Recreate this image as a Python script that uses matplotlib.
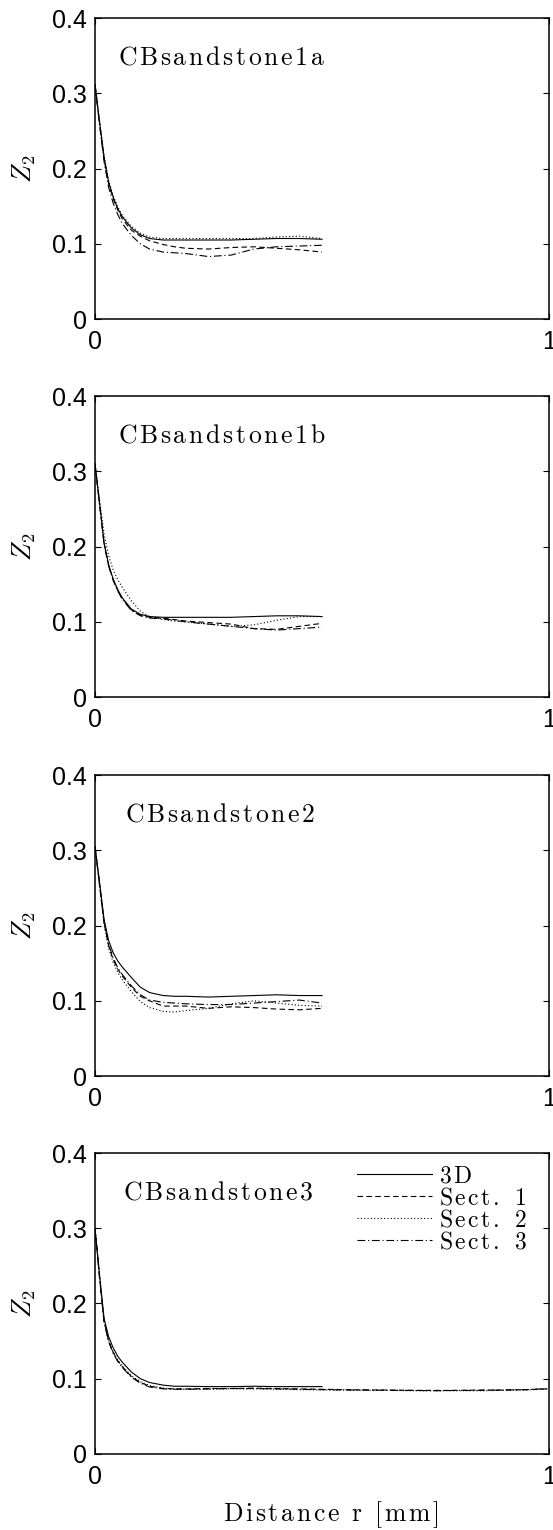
# two-point correlation Z2 for the four sandstone samples, 3D vs 2D sections
import matplotlib
matplotlib.use('Agg')
import matplotlib.pyplot as plt

# data
r = [0, .01, .02, .03, .04, .05, .06, .08, .10, .12, .15, .175, .20, .25, .30, .35, .40, .45, .50]
r_long = r + [.55, .60, .65, .70, .75, .80, .85, .90, .95, 1.0]

samples = ['CBsandstone1a', 'CBsandstone1b', 'CBsandstone2', 'CBsandstone3']
series_names = ['3D', 'Sect. 1', 'Sect. 2', 'Sect. 3']

z_1a_3d = [.312, .262, .215, .182, .162, .147, .136, .121, .112, .107, .105, .105, .105, .105, .105, .106, .107, .107, .106]
z_1a_s1 = [.312, .260, .212, .180, .160, .145, .133, .118, .110, .104, .099, .096, .094, .093, .095, .096, .094, .092, .089]
z_1a_s2 = [.312, .263, .217, .184, .164, .149, .138, .123, .114, .109, .107, .107, .107, .107, .107, .107, .109, .110, .107]
z_1a_s3 = [.312, .258, .209, .175, .154, .139, .127, .111, .100, .093, .089, .088, .087, .083, .085, .093, .096, .097, .098]

z_1b_3d = [.310, .258, .205, .176, .157, .143, .132, .117, .110, .107, .106, .106, .106, .106, .106, .107, .108, .108, .107]
z_1b_s1 = [.310, .257, .204, .175, .156, .142, .131, .116, .109, .106, .105, .103, .101, .099, .097, .091, .090, .094, .098]
z_1b_s2 = [.310, .262, .217, .188, .169, .156, .146, .128, .114, .107, .103, .101, .100, .097, .094, .096, .102, .107, .107]
z_1b_s3 = [.310, .256, .203, .174, .155, .141, .130, .115, .108, .105, .104, .102, .100, .097, .094, .091, .089, .091, .093]

z_2_3d = [.305, .258, .208, .180, .164, .153, .145, .131, .118, .111, .107, .106, .106, .105, .106, .107, .108, .107, .107]
z_2_s1 = [.305, .254, .203, .173, .155, .142, .133, .118, .106, .100, .093, .093, .093, .090, .092, .091, .089, .088, .090]
z_2_s2 = [.305, .253, .201, .170, .151, .138, .128, .112, .099, .091, .086, .085, .087, .090, .096, .100, .097, .094, .093]
z_2_s3 = [.305, .255, .205, .175, .157, .144, .135, .120, .108, .101, .098, .097, .096, .095, .095, .097, .099, .101, .097]

z_3_3d = [.300, .238, .180, .156, .141, .130, .122, .109, .100, .095, .0915, .090, .090, .0895, .0895, .090, .0895, .0895, .0895]
z_3_s1 = [.300, .235, .176, .150, .135, .124, .116, .103, .095, .090, .087, .0865, .0865, .087, .087, .0875, .087, .0865, .086,
          .0855, .085, .085, .0845, .0845, .0845, .085, .085, .0855, .0865]
z_3_s2 = [.300, .236, .177, .151, .136, .125, .117, .104, .096, .091, .0875, .0865, .086, .086, .0865, .0865, .086, .0855, .085,
          .085, .0845, .0845, .084, .084, .084, .084, .0845, .085, .0865]
z_3_s3 = [.300, .234, .175, .149, .134, .123, .115, .102, .094, .089, .0865, .086, .086, .0865, .087, .087, .0865, .086, .0855,
          .085, .085, .0845, .0845, .084, .0845, .0845, .085, .0855, .087]

panels = [
    ([r, r, r, r], [z_1a_3d, z_1a_s1, z_1a_s2, z_1a_s3]),
    ([r, r, r, r], [z_1b_3d, z_1b_s1, z_1b_s2, z_1b_s3]),
    ([r, r, r, r], [z_2_3d, z_2_s1, z_2_s2, z_2_s3]),
    ([r, r_long, r_long, r_long], [z_3_3d, z_3_s1, z_3_s2, z_3_s3]),
]

ytick_vals = [0, 0.1, 0.2, 0.3, 0.4]
ytick_labels = ['0', '0.1', '0.2', '0.3', '0.4']
xtick_vals = [0, 1]
xtick_labels = ['0', '1']

# styles
plt.rcParams['font.family'] = ['Liberation Sans', 'DejaVu Sans']
plt.rcParams['mathtext.fontset'] = 'cm'
styles = ['-', (0, (5, 3)), (0, (1, 2)), (0, (7, 2.5, 1, 2.5))]
label_x = [0.05, 0.05, 0.066, 0.062]
txt_size = 18.5


def spaced(s, gap=0.12):
    # latex-ish roman text with a little letter spacing, like the original
    parts = [r'\ ' if ch == ' ' else ch for ch in s]
    return r'$\mathrm{' + (r'\hspace{%g}' % gap).join(parts) + '}$'


# setup figure
fig = plt.figure(figsize=(5.53, 15.30), dpi=100)
bottoms = [0.7915, 0.5444, 0.2967, 0.0497]

for i, (xs, ys) in enumerate(panels):
    ax = fig.add_axes([0.1718, bottoms[i], 0.821, 0.1967])
    lines = []
    for x, y, ls, name in zip(xs, ys, styles, series_names):
        ln, = ax.plot(x, y, color='k', lw=0.8, ls=ls, label=spaced(name))
        lines.append(ln)
    ax.set_xlim(0, 1)
    ax.set_ylim(0, 0.4)
    ax.set_xticks(xtick_vals)
    ax.set_xticklabels(xtick_labels)
    ax.set_yticks(ytick_vals)
    ax.set_yticklabels(ytick_labels)
    ax.tick_params(direction='in', top=True, right=True, length=4, width=0.8,
                   labelsize=18)
    ax.tick_params(axis='x', pad=8)
    ax.tick_params(axis='y', pad=6)
    for sp in ax.spines.values():
        sp.set_linewidth(1.1)
    ax.set_ylabel(r'$Z_2$', fontsize=19)
    ax.yaxis.set_label_coords(-0.125, 0.5)
    ax.text(label_x[i], 0.348, spaced(samples[i]), fontsize=txt_size,
            ha='left', va='center')
    if i == 3:
        ax.legend(handles=lines, loc='upper right', bbox_to_anchor=(0.952, 0.958),
                  frameon=False, fontsize=17, handlelength=3.2,
                  handletextpad=0.28, labelspacing=0.0, borderpad=0,
                  borderaxespad=0)
        ax.set_xlabel(spaced('Distance r [mm]'), fontsize=txt_size)
        ax.xaxis.set_label_coords(0.52, -0.15)

fig.savefig('out.png', dpi=100)
